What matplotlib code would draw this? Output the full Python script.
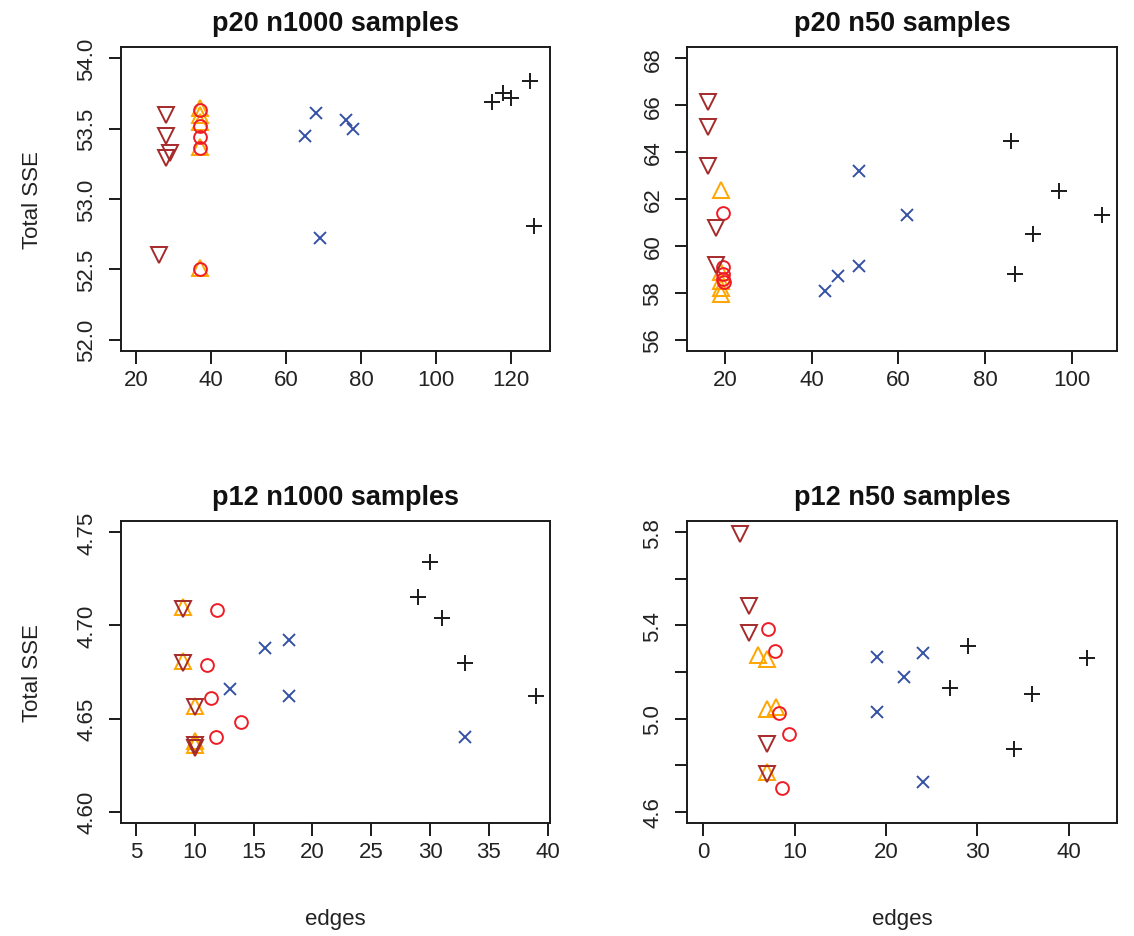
import matplotlib
matplotlib.use("Agg")
import matplotlib.pyplot as plt

plt.rcParams['font.family'] = ['Liberation Sans', 'DejaVu Sans']

# ---------------- data ----------------
titles = ["p20 n1000 samples", "p20 n50 samples", "p12 n1000 samples", "p12 n50 samples"]

# p20 n1000
a_brown_x = [28, 28, 29, 28, 26]
a_brown_y = [53.60, 53.45, 53.33, 53.29, 52.60]
a_orange_x = [37, 37, 37, 37, 37]
a_orange_y = [53.65, 53.60, 53.55, 53.37, 52.51]
a_red_x = [37, 37, 37, 37, 37]
a_red_y = [53.63, 53.52, 53.44, 53.36, 52.50]
a_blue_x = [68, 65, 76, 78, 69]
a_blue_y = [53.61, 53.45, 53.56, 53.50, 52.72]
a_black_x = [115, 118, 120, 125, 126]
a_black_y = [53.69, 53.75, 53.72, 53.84, 52.81]

# p20 n50
b_brown_x = [16, 16, 16, 18, 18]
b_brown_y = [66.12, 65.08, 63.39, 60.78, 59.20]
b_orange_x = [19, 19, 19, 19, 19]
b_orange_y = [62.40, 58.90, 58.50, 58.20, 57.95]
b_red_x = [19.4, 19.6, 19.4, 19.6, 19.7]
b_red_y = [61.42, 59.11, 58.80, 58.59, 58.45]
b_blue_x = [43, 46, 51, 51, 62]
b_blue_y = [58.07, 58.73, 59.16, 63.18, 61.32]
b_black_x = [86, 97, 107, 91, 87]
b_black_y = [64.46, 62.33, 61.33, 60.51, 58.80]

# p12 n1000
c_brown_x = [9, 9, 10, 10, 10]
c_brown_y = [4.709, 4.680, 4.656, 4.636, 4.634]
c_orange_x = [9, 9, 10, 10, 10]
c_orange_y = [4.710, 4.681, 4.657, 4.638, 4.636]
c_red_x = [11.9, 11.0, 11.4, 13.9, 11.8]
c_red_y = [4.708, 4.679, 4.661, 4.648, 4.640]
c_blue_x = [16, 18, 13, 18, 33]
c_blue_y = [4.688, 4.692, 4.666, 4.662, 4.640]
c_black_x = [30, 29, 31, 33, 39]
c_black_y = [4.734, 4.715, 4.704, 4.680, 4.662]

# p12 n50
d_brown_x = [4, 5, 5, 7, 7]
d_brown_y = [5.791, 5.483, 5.369, 4.889, 4.762]
d_orange_x = [6, 7, 7, 8, 7]
d_orange_y = [5.271, 5.254, 5.043, 5.050, 4.773]
d_red_x = [7.1, 7.8, 8.3, 9.35, 8.6]
d_red_y = [5.385, 5.289, 5.023, 4.932, 4.704]
d_blue_x = [19, 24, 22, 19, 24]
d_blue_y = [5.266, 5.282, 5.178, 5.027, 4.728]
d_black_x = [29, 27, 36, 42, 34]
d_black_y = [5.311, 5.131, 5.107, 5.261, 4.869]

panels = [
    (a_brown_x, a_brown_y, a_orange_x, a_orange_y, a_red_x, a_red_y,
     a_blue_x, a_blue_y, a_black_x, a_black_y),
    (b_brown_x, b_brown_y, b_orange_x, b_orange_y, b_red_x, b_red_y,
     b_blue_x, b_blue_y, b_black_x, b_black_y),
    (c_brown_x, c_brown_y, c_orange_x, c_orange_y, c_red_x, c_red_y,
     c_blue_x, c_blue_y, c_black_x, c_black_y),
    (d_brown_x, d_brown_y, d_orange_x, d_orange_y, d_red_x, d_red_y,
     d_blue_x, d_blue_y, d_black_x, d_black_y),
]

xticks = [[20, 40, 60, 80, 100, 120], [20, 40, 60, 80, 100],
          [5, 10, 15, 20, 25, 30, 35, 40], [0, 10, 20, 30, 40]]
yticks = [[52.0, 52.5, 53.0, 53.5, 54.0], [56, 58, 60, 62, 64, 66, 68],
          [4.60, 4.65, 4.70, 4.75], [4.6, 4.8, 5.0, 5.2, 5.4, 5.6, 5.8]]
ytick_labels = [["52.0", "52.5", "53.0", "53.5", "54.0"],
                ["56", "58", "60", "62", "64", "66", "68"],
                ["4.60", "4.65", "4.70", "4.75"],
                ["4.6", "", "5.0", "", "5.4", "", "5.8"]]
xlims = [(16.0, 130.4), (11.2, 110.5), (3.72, 40.2), (-1.79, 45.3)]
ylims = [(51.92, 54.08), (55.52, 68.48), (4.594, 4.756), (4.552, 5.848)]

# ---------------- figure ----------------
W, H = 1134, 937
fig = plt.figure(figsize=(W / 100, H / 100), dpi=100)

# frame pixel boxes: left, right, top, bottom
boxes = [(121, 550, 48, 352), (687, 1117, 48, 352),
         (121, 550, 522, 824), (687, 1117, 522, 824)]

col_brown = "#A52A2A"
col_orange = "#FFA500"
col_red = "#EE1C25"
col_blue = "#3551A5"
col_black = "#1a1a1a"
mew = 1.4

for i, (bx, data) in enumerate(zip(boxes, panels)):
    l, r, t, b = bx
    ax = fig.add_axes([l / W, 1 - b / H, (r - l) / W, (b - t) / H])
    (brx, bry, orx, ory, rdx, rdy, blx, bly, bkx, bky) = data
    ax.plot(bkx, bky, ls='none', marker='+', ms=12, mew=mew, color=col_black)
    ax.plot(blx, bly, ls='none', marker='x', ms=9, mew=mew, color=col_blue)
    ax.plot(orx, ory, ls='none', marker='^', ms=11, mew=mew, mfc='none', mec=col_orange)
    ax.plot(rdx, rdy, ls='none', marker='o', ms=9.2, mew=mew, mfc='none', mec=col_red)
    ax.plot(brx, bry, ls='none', marker='v', ms=11, mew=mew, mfc='none', mec=col_brown)

    ax.set_xlim(*xlims[i])
    ax.set_ylim(*ylims[i])
    ax.set_xticks(xticks[i])
    ax.set_xticklabels([str(v) for v in xticks[i]])
    ax.set_yticks(yticks[i])
    ax.set_yticklabels(ytick_labels[i])
    for s in ax.spines.values():
        s.set_linewidth(1.4)
        s.set_color("#1a1a1a")
    ax.tick_params(axis='both', length=9, width=1.4, color="#1a1a1a",
                   labelsize=16, labelcolor="#222222")
    ax.tick_params(axis='x', pad=4)
    ax.tick_params(axis='y', pad=8, labelrotation=90)
    for lab in ax.get_yticklabels():
        lab.set_va('center')
    ax.set_title(titles[i], fontsize=19.5, fontweight='bold', pad=12, color="#111111")

    if i in (0, 2):
        ax.set_ylabel("Total SSE", fontsize=16, color="#222222")
        ax.yaxis.label.set_va('center')
        ax.yaxis.set_label_coords((33 - l) / (r - l), 0.5)
    if i in (2, 3):
        ax.set_xlabel("edges", fontsize=16, color="#222222")
        ax.xaxis.label.set_va('center')
        ax.xaxis.set_label_coords(0.5, (b - 920) / (b - t))

fig.savefig("out.png", dpi=100)
